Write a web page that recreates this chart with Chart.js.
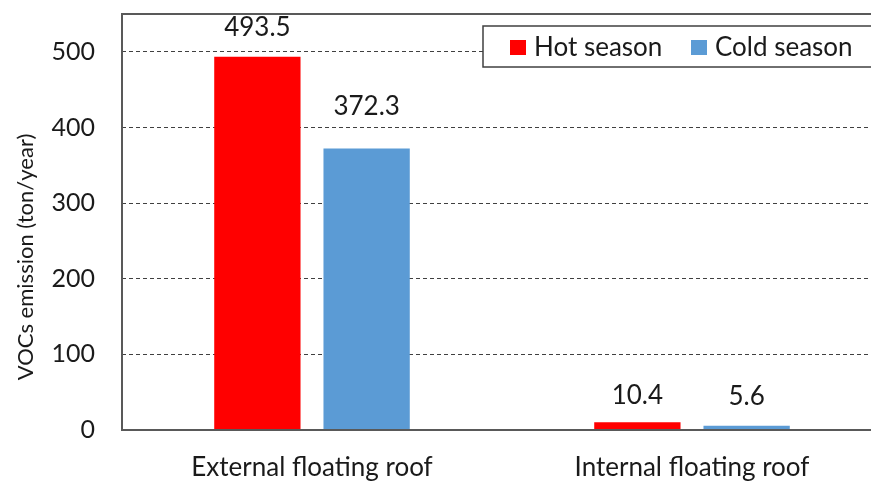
<!DOCTYPE html>
<html>
<head>
<meta charset="utf-8">
<script src="https://cdn.jsdelivr.net/npm/chart.js@4"></script>
<style>
  html, body { margin: 0; padding: 0; background: #fff; overflow: hidden; }
  canvas { display: block; }
</style>
</head>
<body>
<canvas id="barChart" width="890" height="483"></canvas>
<script>
'use strict'

const categories = ['External floating roof', 'Internal floating roof'];
const hotSeason = [493.5, 10.4];
const coldSeason = [372.3, 5.6];
const yTicks = [0, 100, 200, 300, 400, 500];
const yTitle = 'VOCs emission (ton/year)';

const FONT = 'Lato, "Open Sans", sans-serif';
const TEXT = '#1a1a1a';
const FRAME = '#595959';

// label lift above each bar (px), per dataset
const labelLift = [[29, 27], [42, 29]];

const frameAndLabels = {
  id: 'frameAndLabels',
  afterDatasetsDraw(chart) {
    const c = chart.ctx;
    const a = chart.chartArea;
    c.save();
    c.font = '26px ' + FONT;
    c.fillStyle = TEXT;
    c.textAlign = 'center';
    c.textBaseline = 'middle';
    chart.data.datasets.forEach((ds, i) => {
      chart.getDatasetMeta(i).data.forEach((bar, j) => {
        c.fillText(ds.data[j].toFixed(1), bar.x, bar.y - labelLift[i][j]);
      });
    });

    // y title, sits a bit below the middle like the original
    c.save();
    c.translate(26, 257);
    c.rotate(-Math.PI / 2);
    c.font = '22px ' + FONT;
    c.fillText(yTitle, 0, 0);
    c.restore();

    c.strokeStyle = FRAME;
    c.lineWidth = 2;
    c.beginPath();
    c.moveTo(a.right + 5, a.top);
    c.lineTo(a.left, a.top);
    c.lineTo(a.left, a.bottom);
    c.lineTo(a.right + 5, a.bottom);
    c.stroke();

    // legend box
    c.fillStyle = '#fff';
    c.fillRect(483, 26, 410, 41);
    c.lineWidth = 1.5;
    c.strokeStyle = '#404040';
    c.strokeRect(483, 26, 410, 41);
    const items = [['Hot season', '#FF0000', 510], ['Cold season', '#5B9BD5', 691]];
    c.textAlign = 'left';
    items.forEach(([txt, col, x]) => {
      c.fillStyle = col;
      c.fillRect(x, 40, 16, 15);
      c.fillStyle = TEXT;
      c.fillText(txt, x + 24, 48);
    });
    c.restore();
  }
};

new Chart(document.getElementById('barChart'), {
  type: 'bar',
  data: {
    labels: categories,
    datasets: [{
      label: 'Hot season',
      data: hotSeason,
      backgroundColor: '#FF0000',
      categoryPercentage: 0.575,
      barPercentage: 0.79
    }, {
      label: 'Cold season',
      data: coldSeason,
      backgroundColor: '#5B9BD5',
      categoryPercentage: 0.575,
      barPercentage: 0.79
    }]
  },
  options: {
    responsive: false,
    animation: false,
    layout: { padding: { top: 14, right: 8, left: 0, bottom: 0 } },
    plugins: {
      legend: { display: false },
      tooltip: { enabled: false }
    },
    scales: {
      x: {
        grid: { display: false },
        border: { display: false },
        ticks: { color: TEXT, font: { family: FONT, size: 26 }, padding: 14, maxRotation: 0 },
        afterFit(s) { s.height = 53; }
      },
      y: {
        min: 0,
        max: 550,
        afterBuildTicks(s) { s.ticks = yTicks.map(v => ({ value: v })); },
        grid: {
          drawTicks: false,
          color: ctx => (ctx.tick && ctx.tick.value > 0 ? '#404040' : 'rgba(0,0,0,0)'),
          lineWidth: 1
        },
        border: { display: false, dash: [4, 3] },
        ticks: { color: TEXT, font: { family: FONT, size: 25 }, padding: 27 },
        afterFit(s) {
          s.width = 122;
          s.paddingTop = 0;
          s.paddingBottom = 0;
        }
      }
    }
  },
  plugins: [frameAndLabels]
});
</script>
</body>
</html>
